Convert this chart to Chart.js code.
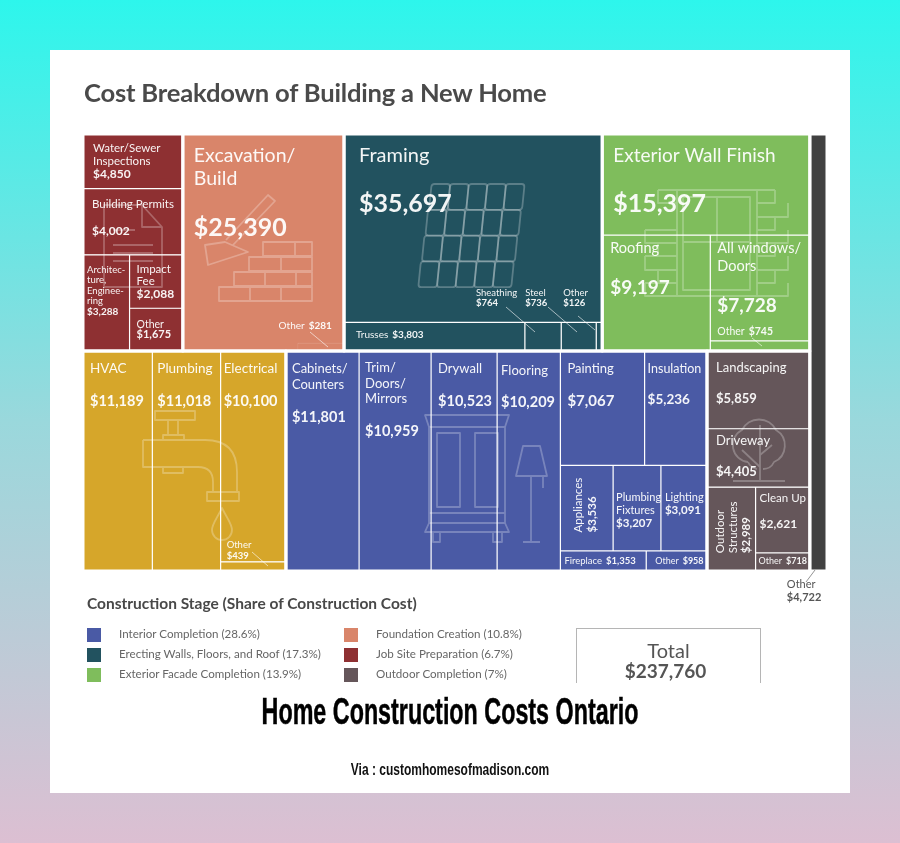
<!DOCTYPE html>
<html lang="en">
<head>
<meta charset="UTF-8">
<title>Home Construction Costs Ontario</title>
<script src="https://cdn.jsdelivr.net/npm/chart.js@4.4.3/dist/chart.umd.min.js"></script>
<style>
  html, body { margin: 0; padding: 0; }
  body { width: 900px; height: 843px; position: relative; overflow: hidden; font-family: Lato, sans-serif;
         background: linear-gradient(180deg, #2df6ec 0%, #9ad8dc 50%, #dcbfd2 100%); }
  #card { position: absolute; left: 50px; top: 50px; width: 800px; height: 743px; background: #fff; }
  #chart { position: absolute; left: 0; top: 0; }
  .t { position: absolute; white-space: nowrap; margin: 0; }
  #title { left: 84px; top: 77px; font-size: 25.6px; font-weight: 700; color: #4a4a4a; letter-spacing: -0.2px; }
  #legendTitle { left: 87px; top: 594px; font-size: 15.5px; font-weight: 700; color: #484848; }
  .swatch { position: absolute; width: 14px; height: 14px; }
  .legendText { font-size: 11.6px; color: #666; }
  #totalBox { position: absolute; left: 576px; top: 628px; width: 185px; height: 55px; border: 1.5px solid #b5b5b5; border-bottom: 0; box-sizing: border-box;
              text-align: center; color: #555; }
  #totalBox div:first-child { font-size: 20px; margin-top: 10px; line-height: 22px; }
  #totalBox div:last-child { font-size: 19px; font-weight: 700; line-height: 20px; position: relative; left: -3px; }
  #footTitle { left: 450px; top: 691px; font: 700 37px "Liberation Sans", sans-serif; color: #000; -webkit-text-stroke: 0.5px #000; transform: translateX(-50%) scaleX(0.63); }
  #footVia { left: 450px; top: 761px; font: 700 16px "Liberation Sans", sans-serif; color: #111; transform: translateX(-50%) scaleX(0.75); }
</style>
</head>
<body>
<div id="card"></div>
<canvas id="chart" width="900" height="843"></canvas>
<p class="t" id="title">Cost Breakdown of Building a New Home</p>
<p class="t" id="legendTitle">Construction Stage (Share of Construction Cost)</p>
<div id="legend"></div>
<div id="totalBox"><div>Total</div><div id="totalValue"></div></div>
<p class="t" id="footTitle">Home Construction Costs Ontario</p>
<p class="t" id="footVia">Via : customhomesofmadison.com</p>
<script>
// values as printed on the picture
const jobSiteNames = ['Water/Sewer\nInspections', 'Building Permits', 'Architec-\nture,\nEnginee-\nring', 'Impact\nFee', 'Other'];
const jobSiteCosts = [4850, 4002, 3288, 2088, 1675];
const foundationNames = ['Excavation/\nBuild', 'Other'];
const foundationCosts = [25390, 281];
const framingNames = ['Framing', 'Trusses', 'Sheathing', 'Steel', 'Other'];
const framingCosts = [35697, 3803, 764, 736, 126];
const exteriorNames = ['Exterior Wall Finish', 'Roofing', 'All windows/\nDoors', 'Other'];
const exteriorCosts = [15397, 9197, 7728, 745];
const systemsNames = ['HVAC', 'Plumbing', 'Electrical', 'Other'];
const systemsCosts = [11189, 11018, 10100, 439];
const interiorNames = ['Cabinets/\nCounters', 'Trim/\nDoors/\nMirrors', 'Drywall', 'Flooring', 'Painting', 'Insulation',
  'Appliances', 'Plumbing\nFixtures', 'Lighting', 'Fireplace', 'Other'];
const interiorCosts = [11801, 10959, 10523, 10209, 7067, 5236, 3536, 3207, 3091, 1353, 958];
const outdoorNames = ['Landscaping', 'Driveway', 'Outdoor\nStructures', 'Clean Up', 'Other'];
const outdoorCosts = [5859, 4405, 2989, 2621, 718];
const remainderNames = ['Other'];
const remainderCosts = [4722];
const totalCost = 237760;

// a few boxes on the picture are not the size their label says, these are the sizes as drawn
const jobSiteAreas = [4002, 4850, 3288, 2088, 1675];
const interiorAreas = [11801, 11620, 10650, 10209, 7067, 5236, 3306, 2999, 2890, 1265, 896];
const remainderAreas = [5500];

const legendNames = ['Interior Completion (28.6%)', 'Erecting Walls, Floors, and Roof (17.3%)', 'Exterior Facade Completion (13.9%)',
  'Foundation Creation (10.8%)', 'Job Site Preparation (6.7%)', 'Outdoor Completion (7%)'];
const legendColors = ['#4a5aa5', '#22525f', '#7fbd5c', '#d9856a', '#8e3032', '#65565a'];

// label placing, all relative to the top left of the cell
const L = (dx, dy, lead, size, valDy, valSize, extra) => Object.assign({ dx, dy, lead, size, valDy, valSize }, extra);
const stages = [
  { label: 'Job Site Preparation', names: jobSiteNames, costs: jobSiteCosts, areas: jobSiteAreas, color: '#8e3032',
    tree: ['v', 0, 1, ['h', 2, ['v', 3, 4]]],
    labels: [L(10, 18, 13, 11.5, 44, 12), L(9, 19, 0, 11.5, 46, 12), L(4, 18, 10.5, 9.5, 60, 10), L(7, 18, 12, 11.5, 43, 12), L(7, 20, 0, 10.5, 30, 11)] },
  { label: 'Foundation Creation', names: foundationNames, costs: foundationCosts, color: '#d9856a',
    tree: ['inset', 0, 1],
    labels: [L(11, 28, 23, 19.5, 102, 25), L(-19, -14, 0, 10, 0, 10, { inline: 1 })] },
  { label: 'Erecting Walls, Floors, and Roof', names: framingNames, costs: framingCosts, color: '#22525f',
    tree: ['v', 0, ['h', 1, 2, 3, 4]],
    labels: [L(15, 28, 0, 20, 78, 25), L(12, 16, 0, 10, 0, 10, { inline: 1 }), L(-49, -26, 0, 9.5, -16, 9.5), L(-36, -26, 0, 9.5, -16, 9.5), L(-33, -26, 0, 9.5, -16, 9.5)] },
  { label: 'Exterior Facade Completion', names: exteriorNames, costs: exteriorCosts, color: '#7fbd5c',
    tree: ['v', 0, ['h', 1, ['v', 2, 3]]],
    labels: [L(11, 28, 0, 19, 78, 25), L(8, 18, 0, 14.5, 59, 19), L(7, 18, 18, 14.5, 77, 19), L(7, -6, 0, 10.5, 0, 10.5, { inline: 1 })] },
  { label: 'Mechanical Systems', names: systemsNames, costs: systemsCosts, color: '#d6a62a',
    tree: ['h', 0, 1, ['v', 2, 3]],
    labels: [L(7, 22, 0, 13.5, 55, 14.5), L(5, 22, 0, 13.5, 55, 14.5), L(3, 22, 0, 13.5, 55, 14.5), L(6, -14, 0, 9.5, -3, 9.5)] },
  { label: 'Interior Completion', names: interiorNames, costs: interiorCosts, areas: interiorAreas, color: '#4a5aa5',
    tree: ['h', 0, 1, 2, 3, ['v', ['h', 4, 5], ['h', 6, 7, 8], ['h', 9, 10]]],
    labels: [L(6, 22, 16, 13, 71, 14.5), L(6, 21, 15.5, 13, 85, 14.5), L(7, 22, 0, 13, 55, 14.5), L(4, 24, 0, 13, 56, 14.5),
      L(7, 22, 0, 13, 55, 15), L(3, 22, 0, 12.5, 53, 13.5), L(22, 67, 14, 11.5, 0, 11.5, { rot: 1 }),
      L(3, 36, 13, 11, 62, 11.5), L(4, 36, 0, 11, 49, 11.5), L(4, 13, 0, 9.5, 0, 9.5, { inline: 1 }), L(9, 13, 0, 9, 0, 9, { inline: 1 })] },
  { label: 'Outdoor Completion', names: outdoorNames, costs: outdoorCosts, color: '#65565a',
    tree: ['v', 0, 1, ['h', 2, ['v', 3, 4]]],
    labels: [L(9, 21, 0, 13, 52, 13), L(9, 16, 0, 13, 47, 13), L(17, 66, 13, 11.5, 0, 11.5, { rot: 1 }), L(4, 15, 0, 11.5, 41, 12), L(3, 11, 0, 9, 0, 9, { inline: 1 })] },
  { label: 'Other', names: remainderNames, costs: remainderCosts, areas: remainderAreas, color: '#414141',
    tree: ['v', 0],
    labels: [L(-23, 454, 0, 11, 467, 11, { dark: 1 })] }
];
const stageTree = ['h', ['v', ['h', 0, 1, 2, 3], ['h', 4, 5, 6]], 7];

// thin pointer lines from the small labels to their cells
const leaders = [[310, 332, 328, 347], [506, 307, 535, 332], [548, 307, 577, 332], [578, 316, 595, 330],
  [752, 338, 762, 346], [252, 552, 268, 566], [815, 570, 806, 582]];

// faint line drawings behind the labels
const icons = [
  // document
  'M104 205H142L162 227V287H104Z M142 205V227H162 M113 245H153 M113 253H153 M113 261H153 M113 230H135',
  // trowel and bricks
  'M263 242H312V256H263Z M295 242V256 M249 257H312V271H249Z M281 257V271 M234 272H312V286H234Z M265 272V286 M296 272V286 M219 287H312V301H219Z M250 287V301 M281 287V301',
  'M205 245L225 242L248 252L208 265Z M226 240L268 195L275 201L233 245',
  // wall and door
  'M683 197H750V290H683Z M717 197V242 M683 242H750 M658 190H775 M757 190V296 M775 190V203H757 M788 203V217H757 M775 217V230H757 M788 230V243H757 M775 243V256H757 M788 256V270H757 M775 270V283H757 M788 283V296H757 M677 190V296 M658 190V203H677 M645 230V243H677 M645 230H677 M658 243V256H677 M645 256V270H677 M645 256H677 M658 270V283H677 M645 283V296H677 M645 283H677 M658 296H757',
  // faucet
  'M155 411H195V420H155Z M168 420V435 M178 420V435 M163 435H184V440H163Z M143 440H205Q237 440 237 472V492 M213 492V482Q213 467 198 467H143V440 M207 492H239V501H207Z M163 467V473H183V467 M222 508C216 520 212 524 212 530A10 10 0 0 0 232 530C232 524 228 520 222 508Z',
  // wardrobe and lamp
  'M425 415H509L505 427H429Z M429 427V513H505V427 M437 433H460V507H437Z M475 433H498V507H475Z M429 513H505V523H429Z M429 523L425 532H509L505 523 M433 532V542H440V532 M493 532V542H502V532',
  'M523 446H540L547 476H516Z M531 476V542 M523 542H540 M543 476V488',
  // tree
  'M748 462A17 17 0 0 1 742 430A19 19 0 0 1 776 430A18 18 0 0 1 774 462A12 12 0 0 1 763 469 M748 462A12 12 0 0 0 757 469 M760 425V481 M733 481H785 M742 450L760 467 M760 455L772 445'
];
const roofTiles = { rows: 4, cols: 5 };

const fmt = v => '$' + v.toLocaleString('en-US');

function sizeOf(node, sizes) {
  if (typeof node === 'number') return sizes[node];
  return node.slice(1).reduce((sum, kid) => sum + sizeOf(kid, sizes), 0);
}

// slice and dice, boxes are fractions of the plot area
function layout(node, box, sizes, out) {
  if (typeof node === 'number') { out[node] = box; return; }
  const kids = node.slice(1);
  const whole = sizeOf(node, sizes);
  if (node[0] === 'inset') {
    out[kids[0]] = box;
    const h = 0.038 * (box.y2 - box.y);
    const w = (sizes[kids[1]] / whole) * (box.y2 - box.y) * (box.x2 - box.x) / h;
    out[kids[1]] = { x: box.x2 - w, x2: box.x2, y: box.y2 - h, y2: box.y2 };
    return;
  }
  let pos = node[0] === 'h' ? box.x : box.y;
  const span = node[0] === 'h' ? box.x2 - box.x : box.y2 - box.y;
  kids.forEach(kid => {
    const next = pos + span * sizeOf(kid, sizes) / whole;
    const kidBox = node[0] === 'h' ? { x: pos, x2: next, y: box.y, y2: box.y2 } : { x: box.x, x2: box.x2, y: pos, y2: next };
    layout(kid, kidBox, sizes, out);
    pos = next;
  });
}

const stageBoxes = [];
layout(stageTree, { x: 0, x2: 1, y: 0, y2: 1 }, stages.map(s => (s.areas || s.costs).reduce((a, b) => a + b, 0)), stageBoxes);

const datasets = stages.map((s, i) => {
  const cells = [];
  layout(s.tree, stageBoxes[i], s.areas || s.costs, cells);
  return {
    label: s.label,
    backgroundColor: s.color,
    data: cells.map((c, k) => Object.assign({ cost: s.costs[k], name: s.names[k] }, c))
  };
});

class TreemapController extends Chart.DatasetController {
  static id = 'treemap';
  static defaults = { dataElementType: 'bar' };
  update() {
    const meta = this._cachedMeta;
    const ds = this.getDataset();
    meta.data.forEach((el, i) => {
      const c = ds.data[i];
      const l = meta.xScale.getPixelForValue(c.x), r = meta.xScale.getPixelForValue(c.x2);
      const t = meta.yScale.getPixelForValue(c.y), b = meta.yScale.getPixelForValue(c.y2);
      Object.assign(el, {
        x: (l + r) / 2, y: t, base: b, width: r - l, height: b - t, horizontal: false, borderSkipped: {}, enableBorderRadius: false, inflateAmount: 0,
        options: { backgroundColor: ds.backgroundColor, borderColor: 'rgba(255,255,255,0.38)', borderWidth: 0.6, borderRadius: 0 }
      });
    });
  }
}
Chart.register(TreemapController);

function drawLabel(ctx, px, py, name, cost, st) {
  const lines = name.split('\n');
  ctx.fillStyle = st.dark ? '#555' : 'rgba(255,255,255,0.94)';
  ctx.textBaseline = 'alphabetic';
  ctx.textAlign = 'left';
  const nameFont = `400 ${st.size}px Lato`, valFont = `700 ${st.valSize}px Lato`;
  if (st.rot) {
    ctx.save();
    ctx.translate(px + st.dx, py + st.dy);
    ctx.rotate(-Math.PI / 2);
    ctx.font = nameFont;
    lines.forEach((line, i) => ctx.fillText(line, 0, i * st.lead));
    ctx.font = valFont;
    ctx.fillText(fmt(cost), 0, lines.length * st.lead);
    ctx.restore();
    return;
  }
  ctx.font = nameFont;
  lines.forEach((line, i) => ctx.fillText(line, px + st.dx, py + st.dy + i * st.lead));
  const nameW = ctx.measureText(lines[0]).width;
  ctx.font = valFont;
  if (st.inline) ctx.fillText(fmt(cost), px + st.dx + nameW + 4, py + st.dy);
  else ctx.fillText(fmt(cost), px + st.dx, py + st.valDy);
}

const treemapDecor = {
  id: 'treemapDecor',
  afterDatasetsDraw(chart) {
    const { ctx, scales: { x, y } } = chart;
    ctx.save();
    // icons
    ctx.strokeStyle = 'rgba(255,255,255,0.26)';
    ctx.lineWidth = 1.8;
    ctx.lineJoin = 'round';
    icons.forEach(d => ctx.stroke(new Path2D(d)));
    for (let r = 0; r < roofTiles.rows; r++) {
      for (let c = 0; c < roofTiles.cols; c++) {
        ctx.save();
        ctx.transform(1, 0, -0.1, 1, 0, 0);
        ctx.beginPath();
        ctx.roundRect(450 - r * 1 + c * 18.6, 184 + r * 25.8, 18.6, 25.8, 3);
        ctx.stroke();
        ctx.restore();
      }
    }
    // white gaps between the stages
    ctx.strokeStyle = '#fff';
    ctx.lineWidth = 3;
    stageBoxes.forEach(b => {
      const l = x.getPixelForValue(b.x), r = x.getPixelForValue(b.x2);
      const t = y.getPixelForValue(b.y), bt = y.getPixelForValue(b.y2);
      ctx.strokeRect(l, t, r - l, bt - t);
    });
    // pointers
    ctx.lineWidth = 0.8;
    leaders.forEach((p, i) => {
      ctx.strokeStyle = i === leaders.length - 1 ? '#777' : 'rgba(255,255,255,0.75)';
      ctx.beginPath(); ctx.moveTo(p[0], p[1]); ctx.lineTo(p[2], p[3]); ctx.stroke();
    });
    // labels
    stages.forEach((s, i) => {
      datasets[i].data.forEach((c, k) => {
        drawLabel(ctx, x.getPixelForValue(c.x), y.getPixelForValue(c.y), c.name, c.cost, s.labels[k]);
      });
    });
    ctx.restore();
  }
};

new Chart(document.getElementById('chart'), {
  type: 'treemap',
  data: { datasets },
  plugins: [treemapDecor],
  options: {
    responsive: false,
    animation: false,
    events: [],
    layout: { padding: { left: 83, top: 134, right: 73, bottom: 272 } },
    plugins: { legend: { display: false }, title: { display: false }, tooltip: { enabled: false } },
    scales: {
      x: { type: 'linear', min: 0, max: 1, display: false },
      y: { type: 'linear', min: 0, max: 1, reverse: true, display: false }
    }
  }
});

// legend and total
const legendEl = document.getElementById('legend');
legendNames.forEach((name, i) => {
  const col = i < 3 ? 0 : 1, row = i % 3;
  const sw = document.createElement('div');
  sw.className = 'swatch';
  sw.style.cssText = `left:${87 + col * 257}px;top:${628 + row * 20}px;background:${legendColors[i]}`;
  const tx = document.createElement('p');
  tx.className = 't legendText';
  tx.style.cssText = `left:${119 + col * 257}px;top:${627 + row * 20}px`;
  tx.textContent = name;
  legendEl.append(sw, tx);
});
document.getElementById('totalValue').textContent = fmt(totalCost);
</script>
</body>
</html>
